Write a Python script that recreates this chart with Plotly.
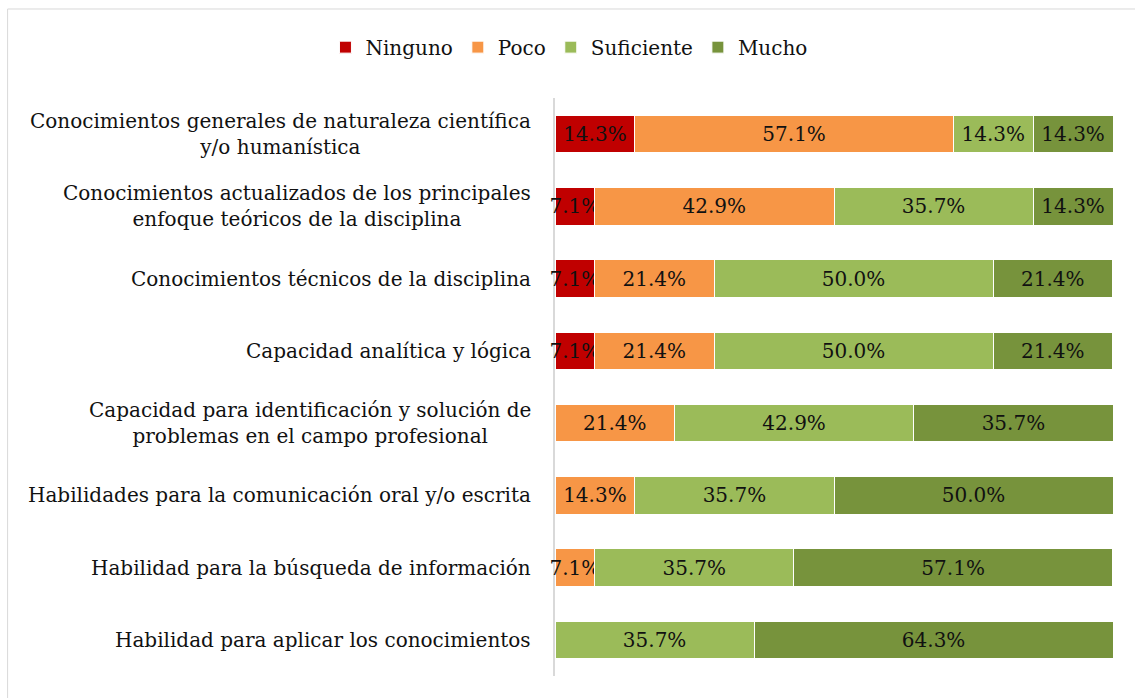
import plotly.graph_objects as go

categories = [
    "Conocimientos generales de naturaleza científica<br>y/o humanística",
    "Conocimientos actualizados de los principales<br>enfoque teóricos de la disciplina",
    "Conocimientos técnicos de la disciplina",
    "Capacidad analítica y lógica",
    "Capacidad para identificación y solución de<br>problemas en el campo profesional",
    "Habilidades para la comunicación oral y/o escrita",
    "Habilidad para la búsqueda de información",
    "Habilidad para aplicar los conocimientos",
]

ninguno = [14.3, 7.1, 7.1, 7.1, 0, 0, 0, 0]
poco = [57.1, 42.9, 21.4, 21.4, 21.4, 14.3, 7.1, 0]
suficiente = [14.3, 35.7, 50.0, 50.0, 42.9, 35.7, 35.7, 35.7]
mucho = [14.3, 14.3, 21.4, 21.4, 35.7, 50.0, 57.1, 64.3]

series = [
    ("Ninguno", ninguno, "#C00000"),
    ("Poco", poco, "#F79646"),
    ("Suficiente", suficiente, "#9BBB59"),
    ("Mucho", mucho, "#77933C"),
]

FONT = "DejaVu Serif"
ypos = list(range(len(categories)))

fig = go.Figure()
for name, vals, color in series:
    fig.add_trace(go.Bar(
        name=name,
        y=ypos,
        x=vals,
        orientation="h",
        width=0.52,
        marker=dict(color=color, line=dict(color="white", width=1)),
        text=[f"{v:.1f}%" if v > 0 else "" for v in vals],
        textposition="inside",
        insidetextanchor="middle",
        constraintext="none",
        cliponaxis=False,
        textfont=dict(family=FONT, size=20, color="#111111"),
        hoverinfo="skip",
    ))

# category labels drawn left of the axis, centred line by line
for i, cat in enumerate(categories):
    fig.add_annotation(
        xref="paper", yref="y", x=0, y=i, xshift=-22,
        text=cat, showarrow=False, xanchor="right", yanchor="middle",
        align="center", font=dict(family=FONT, size=20, color="#111111"),
    )

# outer chart frame
fig.add_shape(
    type="rect", xref="paper", yref="paper",
    x0=-0.981, x1=1.06, y0=-0.06, y1=1.154,
    line=dict(color="#D9D9D9", width=1), fillcolor="rgba(0,0,0,0)",
    layer="below",
)

fig.update_layout(
    width=1135, height=698,
    margin=dict(l=555, r=22, t=98, b=22),
    barmode="stack",
    bargap=0.48,
    plot_bgcolor="white",
    paper_bgcolor="white",
    font=dict(family=FONT, size=20, color="#111111"),
    legend=dict(
        orientation="h", x=0.025, xanchor="center", y=1.088, yanchor="middle",
        font=dict(family=FONT, size=20, color="#111111"),
        itemwidth=30, traceorder="normal",
    ),
    xaxis=dict(range=[0, 100], visible=False, fixedrange=True),
    yaxis=dict(
        range=[7.5, -0.5], showticklabels=False, showgrid=False,
        zeroline=False, showline=True, linecolor="#D9D9D9", linewidth=2,
        ticks="", layer="below traces",
    ),
)

fig.write_html("out.html")
